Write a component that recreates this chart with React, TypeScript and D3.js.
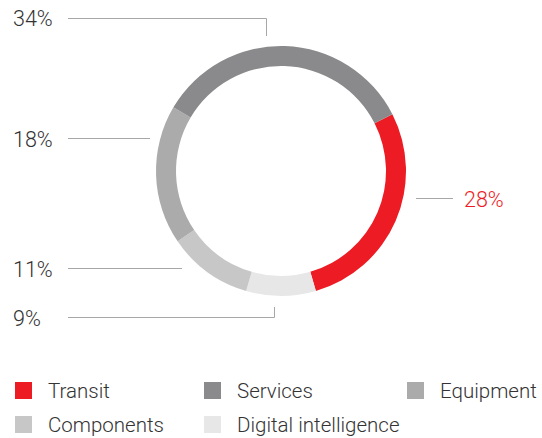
import React from "react";
import * as d3 from "d3";

const categories = ["Transit", "Digital intelligence", "Components", "Equipment", "Services"];
const values = [28, 9, 11, 18, 34];
const colors = ["#ED1C24", "#E8E7E8", "#C8C7C8", "#ABABAB", "#8A898B"];
const legendOrder = ["Transit", "Services", "Equipment", "Components", "Digital intelligence"];
const labels = ["28%", "9%", "11%", "18%", "34%"];

const W = 542, H = 438;
const cx = 281, cy = 171, R = 125, r = 105;
const startDeg = 63;

export default function App() {
  const pie = d3.pie<number>().sort(null).value((d) => d)
    .startAngle((startDeg * Math.PI) / 180)
    .endAngle((startDeg * Math.PI) / 180 + 2 * Math.PI);
  const arcs = pie(values);
  const arc = d3.arc<d3.PieArcDatum<number>>().innerRadius(r).outerRadius(R);
  const font = "Roboto, sans-serif";
  const lineColor = "#A7A7A7";
  const textColor = "#333";

  const legendCols = [15, 204, 407];
  const legendRows = [382, 416];

  return (
    <svg width={W} height={H} style={{ position: "absolute", left: 0, top: 0 }}>
      <rect width={W} height={H} fill="#fff" />
      {arcs.map((a, i) => (
        <path key={i} d={arc(a) || ""} transform={`translate(${cx},${cy})`} fill={colors[i]} />
      ))}
      <g stroke={lineColor} strokeWidth={1} fill="none">
        <polyline points={`68,18.5 ${266.5},18.5 266.5,36`} />
        <line x1={68} y1={138.5} x2={150} y2={138.5} />
        <line x1={68} y1={268.5} x2={182} y2={268.5} />
        <polyline points={`68,317.5 274.5,317.5 274.5,307`} />
        <line x1={416} y1={198.5} x2={453} y2={198.5} />
      </g>
      <g fontFamily={font} fontWeight={300} fontSize={21.5} fill={textColor}>
        <text x={13} y={26}>{labels[4]}</text>
        <text x={13} y={146.5}>{labels[3]}</text>
        <text x={13} y={277}>{labels[2]}</text>
        <text x={13} y={326}>{labels[1]}</text>
        <text x={464} y={206.5} fill="#ED1C24">{labels[0]}</text>
      </g>
      <g fontFamily={font} fontWeight={300} fontSize={20.5} fill={textColor}>
        {legendOrder.map((c, k) => {
          const col = k % 3, row = Math.floor(k / 3);
          const x = legendCols[col], y = legendRows[row];
          const ci = categories.indexOf(c);
          return (
            <g key={c}>
              <rect x={x} y={y} width={17} height={17} fill={colors[ci]} />
              <text x={x + 33} y={y + 16}>{c}</text>
            </g>
          );
        })}
      </g>
    </svg>
  );
}
